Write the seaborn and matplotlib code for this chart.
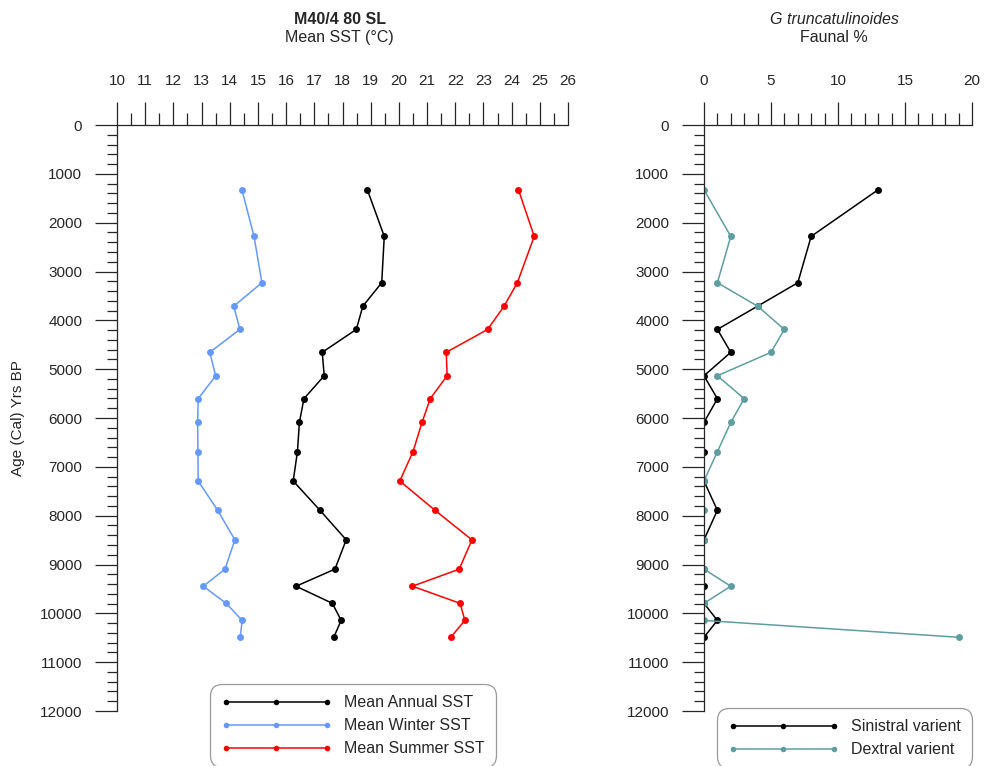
import matplotlib
matplotlib.use("Agg")
import matplotlib.pyplot as plt
from matplotlib.lines import Line2D
from matplotlib.ticker import MultipleLocator
import numpy as np
import pandas as pd
import seaborn as sns

# Core M40/4 80 SL: sample ages (cal yrs BP)
age = [1325, 2280, 3230, 3710, 4185, 4655, 5135, 5605, 6090,
       6690, 7290, 7890, 8495, 9095, 9445, 9795, 10145, 10490]

# Sea-surface temperature reconstructions (deg C)
sst_annual = [18.88, 19.48, 19.39, 18.72, 18.49, 17.28, 17.35, 16.63, 16.47,
              16.40, 16.25, 17.20, 18.13, 17.73, 16.35, 17.64, 17.95, 17.69]
sst_winter = [14.43, 14.86, 15.14, 14.14, 14.36, 13.29, 13.50, 12.88, 12.86,
              12.87, 12.88, 13.57, 14.18, 13.83, 13.06, 13.87, 14.44, 14.37]
sst_summer = [24.24, 24.80, 24.20, 23.73, 23.15, 21.68, 21.71, 21.11, 20.82,
              20.50, 20.03, 21.28, 22.59, 22.14, 20.48, 22.17, 22.34, 21.84]

# G. truncatulinoides coiling varieties (faunal %)
sinistral = [13, 8, 7, 4, 1, 2, 0, 1, 0, 0, 0, 1, 0, 0, 0, 0, 1, 0]
dextral = [0, 2, 1, 4, 6, 5, 1, 3, 2, 1, 0, 0, 0, 0, 2, 0, 0, 19]

sst_labels = ["Mean Annual SST", "Mean Winter SST", "Mean Summer SST"]
sst_colors = ["#000000", "#6699ff", "#ff0000"]
faunal_labels = ["Sinistral varient", "Dextral varient"]
faunal_colors = ["#000000", "#5f9ea0"]

sst_df = pd.concat([
    pd.DataFrame({"age": age, "value": v, "series": lab})
    for v, lab in zip([sst_annual, sst_winter, sst_summer], sst_labels)
], ignore_index=True)
faunal_df = pd.concat([
    pd.DataFrame({"age": age, "value": v, "series": lab})
    for v, lab in zip([sinistral, dextral], faunal_labels)
], ignore_index=True)

sns.set_style("ticks")
plt.rcParams["font.family"] = ["Liberation Sans", "DejaVu Sans"]
plt.rcParams["axes.linewidth"] = 0.9

fig = plt.figure(figsize=(9.85, 7.66), dpi=100)
ax1 = fig.add_axes([0.1188, 0.0718, 0.4579, 0.7650])
ax2 = fig.add_axes([0.7147, 0.0718, 0.2721, 0.7650])

line_kw = dict(marker="o", markersize=5, markeredgewidth=0, linewidth=1.1,
               sort=False, estimator=None, orient="y", legend=False)

sns.lineplot(data=sst_df, x="value", y="age", hue="series",
             hue_order=sst_labels, palette=sst_colors, ax=ax1, **line_kw)
sns.lineplot(data=faunal_df, x="value", y="age", hue="series",
             hue_order=faunal_labels, palette=faunal_colors, ax=ax2, **line_kw)


def style_axis(ax, xlim, xmajor, xminor):
    ax.set_xlim(*xlim)
    ax.set_ylim(12000, 0)
    for side in ("bottom", "right"):
        ax.spines[side].set_visible(False)
    ax.xaxis.tick_top()
    ax.xaxis.set_label_position("top")
    ax.xaxis.set_major_locator(MultipleLocator(xmajor))
    ax.xaxis.set_minor_locator(MultipleLocator(xminor))
    ax.yaxis.set_major_locator(MultipleLocator(1000))
    ax.yaxis.set_minor_locator(MultipleLocator(200))
    ax.tick_params(axis="x", which="major", direction="out", length=16.5,
                   width=0.9, pad=10, labelsize=11, top=True, bottom=False)
    ax.tick_params(axis="x", which="minor", direction="out", length=8.5,
                   width=0.9, top=True, bottom=False)
    ax.tick_params(axis="y", which="major", direction="out", length=16,
                   width=0.9, pad=9, labelsize=11)
    ax.tick_params(axis="y", which="minor", direction="out", length=7.5,
                   width=0.9)
    ax.set_xlabel("")
    ax.set_ylabel("")
    ax.grid(False)


style_axis(ax1, (10, 26), 1, 0.5)
style_axis(ax2, (0, 20), 5, 1)

fig.text(0.0183, 0.4543, "Age (Cal) Yrs BP", rotation=90,
         ha="center", va="center", fontsize=11)

fig.text(0.345, 0.9739, "M40/4 80 SL", ha="center", va="center",
         fontsize=11.5, fontweight="bold")
fig.text(0.345, 0.9504, "Mean SST (°C)", ha="center", va="center",
         fontsize=11.5)
fig.text(0.8467, 0.9739, "G truncatulinoides", ha="center", va="center",
         fontsize=11.5, fontstyle="italic")
fig.text(0.8467, 0.9504, "Faunal %", ha="center", va="center",
         fontsize=11.5)


def handles_for(colors):
    return [Line2D([], [], color=c, marker="o", markersize=4,
                   markeredgewidth=0, linewidth=1.1) for c in colors]


leg_kw = dict(loc="upper left", bbox_transform=fig.transFigure,
              numpoints=3, fontsize=11.5, handlelength=6.9,
              handletextpad=0.8, labelspacing=0.5, borderpad=0.7,
              borderaxespad=0, frameon=True, fancybox=True,
              edgecolor="#9a9a9a", framealpha=1)
leg1 = ax1.legend(handles_for(sst_colors), sst_labels,
                  bbox_to_anchor=(0.2132, 0.1070), **leg_kw)
leg2 = ax2.legend(handles_for(faunal_colors), faunal_labels,
                  bbox_to_anchor=(0.7279, 0.0757), **leg_kw)
for leg in (leg1, leg2):
    frame = leg.get_frame()
    frame.set_linewidth(0.9)
    frame.set_boxstyle("round", pad=0, rounding_size=0.75)

fig.savefig("out.png", dpi=100)
